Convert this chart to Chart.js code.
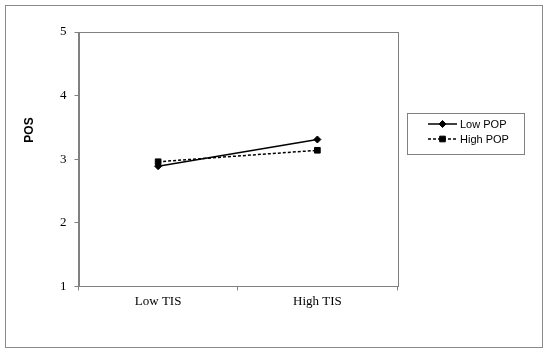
<!DOCTYPE html>
<html>
<head>
<meta charset="utf-8">
<script src="https://cdn.jsdelivr.net/npm/chart.js"></script>
<style>
  html, body { margin: 0; padding: 0; background: #fff; }
</style>
</head>
<body>
<canvas id="pos_chart" width="550" height="353"></canvas>
<script>
const categories = ['Low TIS', 'High TIS'];
const seriesNames = ['Low POP', 'High POP'];
const lowPop = [2.89, 3.31];
const highPop = [2.96, 3.14];
const yTicks = [1, 2, 3, 4, 5];
const yTitle = 'POS';

const axisGrey = '#808080';

// outer frame, plot box, rotated axis title and boxed legend
const framePlugin = {
  id: 'frame',
  beforeDraw(chart) {
    const c = chart.ctx;
    c.save();
    c.fillStyle = '#fff';
    c.fillRect(0, 0, chart.width, chart.height);
    c.strokeStyle = '#8a8a8a';
    c.lineWidth = 1;
    c.strokeRect(5.5, 5.5, 537, 342);
    c.restore();
  },
  beforeDatasetsDraw(chart) {
    const c = chart.ctx, a = chart.chartArea;
    c.save();
    c.strokeStyle = axisGrey;
    c.lineWidth = 1;
    c.strokeRect(Math.round(a.left) + 0.5, Math.round(a.top) + 0.5,
      Math.round(a.right - a.left), Math.round(a.bottom - a.top));
    c.restore();
  },
  afterDraw(chart) {
    const c = chart.ctx;
    c.save();
    // y axis title
    c.translate(30, 130);
    c.rotate(-Math.PI / 2);
    c.font = 'bold 12px "Liberation Sans", Arial, sans-serif';
    c.fillStyle = '#000';
    c.textAlign = 'center';
    c.textBaseline = 'middle';
    c.fillText(yTitle, 0, 0);
    c.restore();

    // legend
    c.save();
    c.strokeStyle = axisGrey;
    c.lineWidth = 1;
    c.strokeRect(407.5, 113.5, 117, 41);
    chart.data.datasets.forEach((ds, i) => {
      const y = 124 + i * 15;
      c.save();
      c.strokeStyle = ds.borderColor;
      c.lineWidth = ds.borderWidth;
      c.setLineDash(ds.borderDash || []);
      c.beginPath();
      c.moveTo(428, y);
      c.lineTo(457, y);
      c.stroke();
      c.restore();
      c.fillStyle = ds.backgroundColor;
      c.strokeStyle = ds.borderColor;
      Chart.helpers.drawPoint(c, {
        pointStyle: ds.pointStyle, radius: ds.pointRadius, rotation: 0, borderWidth: 1
      }, 442.5, y);
      c.fillStyle = '#000';
      c.font = '11px "Liberation Sans", Arial, sans-serif';
      c.textAlign = 'left';
      c.textBaseline = 'middle';
      c.fillText(ds.label, 460, y + 0.5);
    });
    c.restore();
  }
};

new Chart(document.getElementById('pos_chart'), {
  type: 'line',
  data: {
    labels: categories,
    datasets: [{
      label: seriesNames[0],
      data: lowPop,
      borderColor: '#000',
      backgroundColor: '#000',
      borderWidth: 1.5,
      pointStyle: 'rectRot',
      pointRadius: 3.5,
      pointBorderWidth: 1,
      fill: false
    }, {
      label: seriesNames[1],
      data: highPop,
      borderColor: '#000',
      backgroundColor: '#000',
      borderWidth: 1.5,
      borderDash: [3, 2],
      pointStyle: 'rect',
      pointRadius: 4,
      pointBorderWidth: 1,
      fill: false
    }]
  },
  options: {
    responsive: false,
    animation: false,
    devicePixelRatio: 1,
    layout: { padding: { left: 52, top: 32, right: 153, bottom: 41 } },
    plugins: {
      legend: { display: false },
      tooltip: { enabled: false }
    },
    scales: {
      x: {
        offset: true,
        grid: { offset: true, drawOnChartArea: false, tickLength: 4, color: axisGrey },
        border: { color: axisGrey },
        ticks: {
          color: '#000',
          padding: 3,
          font: { family: '"Liberation Serif", "Times New Roman", serif', size: 13 }
        }
      },
      y: {
        min: 1,
        max: 5,
        afterBuildTicks: s => { s.ticks = yTicks.map(v => ({ value: v })); },
        grid: { drawOnChartArea: false, tickLength: 4, color: axisGrey },
        border: { color: axisGrey },
        ticks: {
          color: '#000',
          padding: 8,
          font: { family: '"Liberation Serif", "Times New Roman", serif', size: 13 }
        }
      }
    }
  },
  plugins: [framePlugin]
});
</script>
</body>
</html>
